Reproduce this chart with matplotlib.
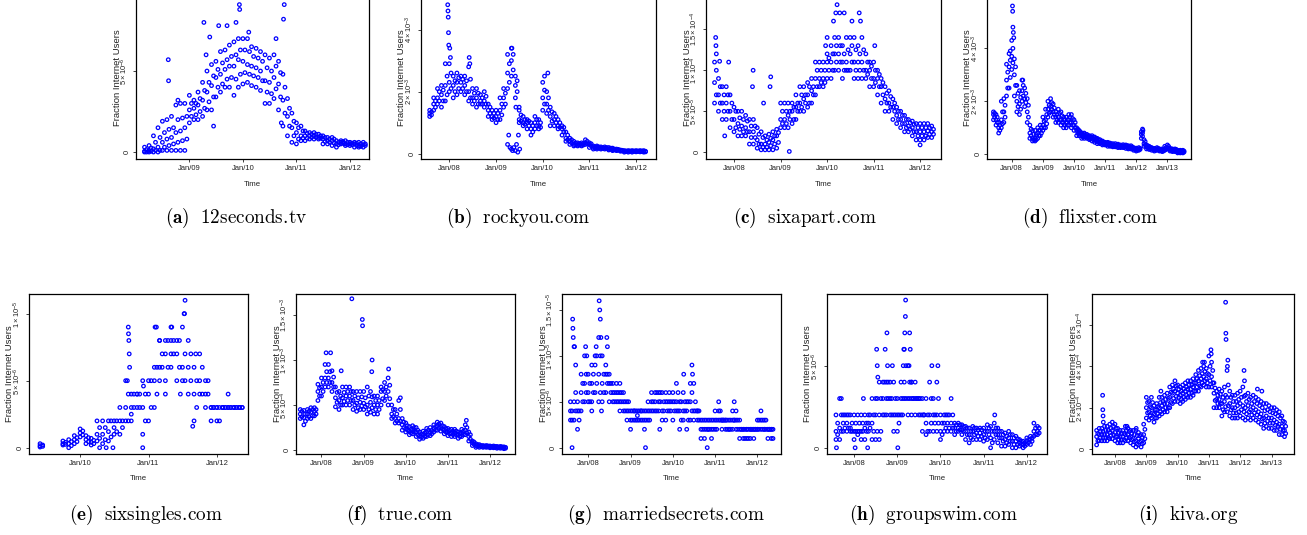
import numpy as np
import pandas as pd
import matplotlib
matplotlib.use("Agg")
import matplotlib.pyplot as plt

nan = float("nan")

plt.rcParams['font.family'] = ['Liberation Sans', 'DejaVu Sans']
plt.rcParams['mathtext.fontset'] = 'custom'
plt.rcParams['mathtext.rm'] = 'Liberation Sans'
plt.rcParams['mathtext.it'] = 'Liberation Sans:italic'
plt.rcParams['mathtext.bf'] = 'Liberation Sans:bold'

# ---------------- data: monthly readings of the point cloud ----------------
# lo / mid / hi read at the start of each month, q1 / q3 read at mid-month.

# (a) 12seconds.tv, units 1e-6, from Mar 2008
a_start = '2008-03-01'
a_lo = [0, 0, 0, 0, 0.1, 0.1, 0.1, 0.1, 0.1, 0.1,
        1.8, 2.0, 2.0, 2.2, 2.6, 2.6, 3.4, 3.7, 4.0, 4.0, 3.5, 4.0,
        4.2, 4.3, 4.1, 4.0, 3.8, 3.0, 3.0, 3.3, 2.6, 1.6, 1.0, 0.6,
        0.5, 0.7, 0.7, 0.8, 0.8, 0.8, 0.5, 0.5, 0.4, 0.3, 0.5, 0.4,
        0.4, 0.3, 0.3, 0.3]
a_mid = [0.05, 0.1, 0.2, 0.3, 0.6, 0.8, 0.9, 1.2, 1.3, 1.5,
         2.6, 2.7, 2.9, 3.2, 3.7, 4.1, 4.6, 4.8, 5.1, 5.3, 5.3, 5.7,
         5.6, 5.4, 5.3, 5.2, 5.0, 4.4, 4.3, 4.6, 4.2, 3.2, 2.2, 1.5,
         1.2, 1.0, 1.0, 1.0, 1.0, 0.9, 0.8, 0.7, 0.7, 0.5, 0.6, 0.5,
         0.5, 0.5, 0.4, 0.45]
a_hi = [0.3, 0.4, 1.0, 1.5, 1.9, 2.0, 2.2, 2.9, 3.0, 3.0,
        3.5, 3.2, 3.7, 4.3, 5.0, 5.4, 5.6, 6.2, 6.3, 6.6, 6.8, 7.0,
        7.0, 7.0, 6.5, 6.4, 6.2, 6.0, 5.8, 6.0, 5.6, 4.8, 3.3, 2.4,
        1.8, 1.6, 1.3, 1.2, 1.2, 1.1, 1.0, 0.9, 0.9, 0.7, 0.7, 0.7,
        0.6, 0.6, 0.6, 0.6]
a_q1 = [0, 0.05, 0.1, 0.1, 0.3, 0.4, 0.5, 0.6, 0.7, 0.8,
        2.2, 2.3, 2.5, 2.7, 3.1, 3.4, 4.0, 4.2, 4.5, 4.6, 4.5, 4.8,
        4.9, 4.8, 4.7, 4.6, 4.4, 3.7, 3.6, 3.9, 3.4, 2.4, 1.6, 1.0,
        0.8, 0.85, 0.85, 0.9, 0.9, 0.85, 0.65, 0.6, 0.55, 0.45, 0.55, 0.45,
        0.45, 0.4, 0.35, 0.4]
a_q3 = [0.15, 0.25, 0.6, 0.9, 1.2, 1.4, 1.5, 2.0, 2.1, 2.2,
        3.0, 3.0, 3.3, 3.8, 4.3, 4.7, 5.1, 5.5, 5.7, 5.9, 6.0, 6.3,
        6.3, 6.2, 5.9, 5.8, 5.6, 5.2, 5.0, 5.3, 4.9, 4.0, 2.7, 1.9,
        1.5, 1.3, 1.15, 1.1, 1.1, 1.0, 0.9, 0.8, 0.8, 0.6, 0.65, 0.6,
        0.55, 0.55, 0.5, 0.5]
a_out_dates = ['2008-08-10', '2008-08-12', '2008-10-15', '2009-04-10', '2009-04-25', '2009-05-20',
               '2009-06-15', '2009-07-20', '2009-09-15', '2009-11-15', '2009-12-08', '2009-12-10',
               '2010-02-10', '2010-08-15', '2010-10-10', '2010-10-05', '2010-09-20']
a_out_vals = [5.7, 4.4, 3.2, 8.0, 6.0, 7.1, 1.6, 7.8, 7.8, 8.0, 9.1, 8.8, 7.4, 7.0, 9.1, 8.2, 1.8]
a_scale = 1e-6
a_yticks = [0, 5]
a_ylabels = ['0', r'$5\times10^{-6}$']
a_xlabels = ['Jan/09', 'Jan/10', 'Jan/11', 'Jan/12']
a_name = '12seconds.tv'

# (b) rockyou.com, units 1e-3, from Aug 2007
b_start = '2007-08-01'
b_lo = [1.2, 1.4, 1.6, 1.5, 1.7,
        2.0, 1.8, 1.9, 2.0, 1.9, 1.7, 1.6, 1.5, 1.6, 1.5, 1.2, 1.1,
        1.0, 1.1, 1.5, 2.1, 2.5, 1.8, 1.0, 0.9, 0.8, 0.6, 0.8, 0.8,
        1.4, 1.3, 0.9, 0.9, 0.8, 0.6, 0.4, 0.3, 0.25, 0.25, 0.25, 0.3,
        0.2, 0.15, 0.15, 0.15, 0.15, 0.12, 0.1, 0.1, 0.08, 0.05, 0.05, 0.05,
        0.06, 0.06, 0.05]
b_mid = [1.3, 1.6, 1.8, 1.9, 2.2,
         2.3, 2.2, 2.3, 2.3, 2.2, 2.0, 1.8, 1.8, 1.7, 1.7, 1.4, 1.2,
         1.2, 1.4, 1.8, 2.6, 3.0, 2.2, 1.1, 1.0, 1.0, 0.8, 1.0, 0.9,
         1.8, 1.6, 1.2, 1.1, 0.9, 0.8, 0.5, 0.4, 0.3, 0.3, 0.3, 0.35,
         0.3, 0.2, 0.2, 0.18, 0.18, 0.15, 0.13, 0.12, 0.1, 0.08, 0.08, 0.08,
         0.08, 0.08, 0.07]
b_hi = [1.4, 1.8, 2.1, 2.2, 2.9,
        2.9, 2.5, 2.6, 2.5, 2.5, 2.8, 2.1, 2.1, 1.9, 2.0, 1.6, 1.4,
        1.4, 1.8, 2.1, 3.2, 3.4, 2.5, 1.4, 1.2, 1.1, 1.0, 1.2, 1.1,
        2.3, 2.0, 1.5, 1.3, 1.1, 0.9, 0.7, 0.5, 0.4, 0.35, 0.35, 0.45,
        0.35, 0.25, 0.25, 0.22, 0.22, 0.2, 0.18, 0.15, 0.12, 0.1, 0.1, 0.1,
        0.1, 0.1, 0.1]
b_q1 = [1.25, 1.5, 1.7, 1.7, 1.9,
        2.1, 2.0, 2.1, 2.1, 2.0, 1.8, 1.7, 1.6, 1.6, 1.6, 1.3, 1.15,
        1.1, 1.25, 1.6, 2.3, 2.7, 2.0, 1.05, 0.95, 0.9, 0.7, 0.9, 0.85,
        1.6, 1.4, 1.05, 1.0, 0.85, 0.7, 0.45, 0.35, 0.28, 0.28, 0.28, 0.32,
        0.25, 0.18, 0.18, 0.17, 0.17, 0.14, 0.12, 0.11, 0.09, 0.07, 0.07, 0.07,
        0.07, 0.07, 0.06]
b_q3 = [1.35, 1.7, 2.0, 2.05, 2.5,
        2.6, 2.35, 2.45, 2.4, 2.35, 2.4, 1.95, 1.95, 1.8, 1.85, 1.5, 1.3,
        1.3, 1.6, 1.95, 2.9, 3.2, 2.35, 1.25, 1.1, 1.05, 0.9, 1.1, 1.0,
        2.05, 1.8, 1.35, 1.2, 1.0, 0.85, 0.6, 0.45, 0.35, 0.33, 0.33, 0.4,
        0.32, 0.22, 0.22, 0.2, 0.2, 0.18, 0.15, 0.14, 0.11, 0.09, 0.09, 0.09,
        0.09, 0.09, 0.08]
b_out_dates = ['2009-04-01', '2009-04-10', '2009-04-20', '2009-05-01', '2009-05-10', '2009-05-20',
               '2009-06-01', '2009-06-10', '2009-06-20', '2009-06-25', '2009-07-05', '2009-07-01',
               '2009-06-05', '2007-12-20', '2007-12-22', '2007-12-24', '2007-12-26', '2007-12-28',
               '2008-01-05', '2008-01-10', '2008-06-05', '2008-06-10', '2009-05-05', '2010-02-10',
               '2010-01-15']
b_out_vals = [0.3, 0.6, 0.2, 0.15, 0.1, 0.2, 0.1, 0.3, 0.05, 0.6, 0.15, 1.5, 1.5,
              4.8, 4.6, 4.4, 3.9, 3.5, 3.4, 3.1, 3.1, 2.9, 3.4, 2.6, 2.5]
b_scale = 1e-3
b_yticks = [0, 2, 4]
b_ylabels = ['0', r'$2\times10^{-3}$', r'$4\times10^{-3}$']
b_xlabels = ['Jan/08', 'Jan/09', 'Jan/10', 'Jan/11', 'Jan/12']
b_name = 'rockyou.com'

# (c) sixapart.com, units 1e-5, from Aug 2007
c_start = '2007-08-01'
c_lo = [6, 5, 4, 4, 3,
        2.5, 2, 2, 2, 1, 1, 0.5, 0.3, 0.3, 0.3, 0.3, 0.5,
        3, 3, 3, 3.5, 4, 5, 5, 5.5, 6, 7, 8, 8,
        9, 9, 10, 10, 9, 10, 10, 9, 9, 9, 9, 8,
        8, 7, 6, 5, 5, 4, 3.5, 3, 2.5, 2.5, 2, 1.5,
        1.5, 1.5, 1.8, 1.8]
c_mid = [8.5, 7, 6, 6, 5,
         4, 3.5, 3.2, 3, 2.5, 2.5, 1.5, 1, 1, 1.2, 1.5, 2,
         4, 4, 4.5, 5, 5.5, 6, 6.5, 7, 7.5, 9, 9, 9,
         11, 11, 12, 12, 11, 11, 12, 11, 11, 11, 10, 10,
         9, 9, 8, 6.5, 6, 5.5, 4.5, 4, 3.5, 3.2, 3, 2.5,
         2.5, 2.5, 2.6, 2.5]
c_hi = [11, 9, 8, 8, 7,
        5.5, 5, 5, 4.5, 4, 4, 3, 2.5, 2, 2.2, 2.5, 2.8,
        6, 6, 6, 6, 7, 8, 8, 8.5, 9, 11, 11, 11,
        12, 13, 14, 14, 13, 14, 14, 14, 13, 14, 12, 11,
        11, 10, 9, 8, 7.5, 6.5, 5.5, 5, 4.5, 4, 3.8, 3.5,
        3.5, 3.5, 3.5, 3.2]
c_q1 = [7, 6, 5, 5, 4,
        3, 2.8, 2.5, 2.5, 1.8, 1.8, 1, 0.6, 0.6, 0.8, 1, 1.2,
        3.5, 3.5, 4, 4, 5, 5.5, 6, 6, 7, 8, 8.5, 8.5,
        10, 10, 11, 11, 10, 10, 11, 10, 10, 10, 9.5, 9,
        8.5, 8, 7, 6, 5.5, 5, 4, 3.5, 3, 2.8, 2.5, 2,
        2, 2, 2.2, 2.2]
c_q3 = [10, 8, 7, 7, 6,
        5, 4.2, 4, 3.8, 3.2, 3.2, 2.2, 1.8, 1.5, 1.7, 2, 2.4,
        5, 5, 5, 5.5, 6, 7, 7, 8, 8, 10, 10, 10,
        11.5, 12, 13, 13, 12, 12.5, 13, 12.5, 12, 12.5, 11, 10.5,
        10, 9.5, 8.5, 7.2, 6.8, 6, 5, 4.5, 4, 3.6, 3.4, 3,
        3, 3, 3, 2.8]
c_out_dates = ['2007-08-10', '2007-08-12', '2007-08-15', '2007-09-10', '2007-10-20', '2007-11-20',
               '2008-05-25', '2008-05-30', '2008-08-20', '2008-10-15', '2008-10-10', '2009-03-10',
               '2010-01-01', '2009-12-20', '2010-02-20', '2010-03-10', '2010-03-20', '2010-04-10',
               '2010-05-15', '2010-07-15', '2010-09-10', '2010-09-20', '2011-01-10', '2012-01-01']
c_out_vals = [14, 13, 12, 11.1, 2, 11, 8, 10, 6, 9.2, 8, 0.1,
              14, 13, 16, 17, 18, 17, 17, 16, 17, 16, 13, 0.9]
c_scale = 1e-5
c_yticks = [0, 5, 10, 15]
c_ylabels = ['0', r'$5\times10^{-5}$', r'$1\times10^{-4}$', r'$1.5\times10^{-4}$']
c_xlabels = ['Jan/08', 'Jan/09', 'Jan/10', 'Jan/11', 'Jan/12']
c_name = 'sixapart.com'

# (d) flixster.com, units 1e-3, from Jun 2007
d_start = '2007-06-01'
d_lo = [1.3, 1.1, 0.8, 1.0, 1.2, 2.2, 2.5,
        3.2, 2.2, 1.6, 1.5, 2.0, 1.8, 1.2, 0.6, 0.5, 0.5, 0.6, 0.7,
        0.9, 1.0, 1.4, 1.6, 1.4, 1.2, 1.2, 1.1, 1.0, 1.0, 1.1, 1.0,
        0.9, 0.7, 0.7, 0.6, 0.6, 0.6, 0.55, 0.5, 0.45, 0.4, 0.4, 0.35,
        0.35, 0.3, 0.3, 0.28, 0.28, 0.25, 0.25, 0.25, 0.22, 0.2, 0.2, 0.15,
        0.12, 0.15, 0.6, 0.3, 0.2, 0.18, 0.15, 0.12, 0.15, 0.12, 0.1, 0.15,
        0.2, 0.12, 0.1, 0.1, 0.05, 0.05, 0.05]
d_mid = [1.5, 1.3, 1.0, 1.3, 1.6, 2.8, 3.3,
         3.7, 3.0, 2.0, 1.9, 2.4, 2.1, 1.6, 0.8, 0.6, 0.6, 0.8, 0.9,
         1.1, 1.3, 1.7, 1.8, 1.6, 1.4, 1.4, 1.3, 1.2, 1.2, 1.3, 1.2,
         1.1, 0.9, 0.8, 0.7, 0.7, 0.65, 0.6, 0.6, 0.55, 0.5, 0.45, 0.42,
         0.4, 0.38, 0.35, 0.32, 0.33, 0.3, 0.3, 0.3, 0.28, 0.26, 0.25, 0.2,
         0.18, 0.2, 0.75, 0.4, 0.28, 0.22, 0.2, 0.18, 0.2, 0.15, 0.15, 0.2,
         0.25, 0.18, 0.15, 0.15, 0.1, 0.1, 0.1]
d_hi = [1.6, 1.5, 1.2, 2.0, 2.1, 3.4, 3.8,
        4.3, 3.6, 2.6, 2.4, 2.8, 2.5, 2.1, 1.1, 0.9, 0.9, 1.0, 1.1,
        1.4, 1.7, 2.0, 2.1, 1.9, 1.6, 1.7, 1.6, 1.4, 1.4, 1.5, 1.5,
        1.3, 1.0, 0.9, 0.8, 0.8, 0.75, 0.7, 0.7, 0.65, 0.6, 0.55, 0.5,
        0.45, 0.45, 0.42, 0.4, 0.4, 0.38, 0.35, 0.36, 0.35, 0.32, 0.32, 0.25,
        0.23, 0.25, 0.85, 0.55, 0.35, 0.3, 0.25, 0.22, 0.25, 0.2, 0.2, 0.3,
        0.35, 0.22, 0.2, 0.2, 0.15, 0.15, 0.15]
d_q1 = [1.4, 1.2, 0.9, 1.15, 1.4, 2.5, 2.9,
        3.45, 2.6, 1.8, 1.7, 2.2, 1.95, 1.4, 0.7, 0.55, 0.55, 0.7, 0.8,
        1.0, 1.15, 1.55, 1.7, 1.5, 1.3, 1.3, 1.2, 1.1, 1.1, 1.2, 1.1,
        1.0, 0.8, 0.75, 0.65, 0.65, 0.62, 0.58, 0.55, 0.5, 0.45, 0.42, 0.38,
        0.38, 0.34, 0.32, 0.3, 0.3, 0.28, 0.28, 0.28, 0.25, 0.23, 0.22, 0.18,
        0.15, 0.18, 0.68, 0.35, 0.24, 0.2, 0.18, 0.15, 0.18, 0.14, 0.12, 0.18,
        0.22, 0.15, 0.12, 0.12, 0.08, 0.08, 0.08]
d_q3 = [1.55, 1.4, 1.1, 1.6, 1.85, 3.1, 3.55,
        4.0, 3.3, 2.3, 2.15, 2.6, 2.3, 1.85, 0.95, 0.75, 0.75, 0.9, 1.0,
        1.25, 1.5, 1.85, 1.95, 1.75, 1.5, 1.55, 1.45, 1.3, 1.3, 1.4, 1.35,
        1.2, 0.95, 0.85, 0.75, 0.75, 0.7, 0.65, 0.65, 0.6, 0.55, 0.5, 0.46,
        0.42, 0.42, 0.38, 0.36, 0.36, 0.34, 0.32, 0.33, 0.32, 0.29, 0.28, 0.22,
        0.2, 0.22, 0.8, 0.48, 0.32, 0.26, 0.22, 0.2, 0.22, 0.18, 0.18, 0.25,
        0.3, 0.2, 0.18, 0.18, 0.12, 0.12, 0.12]
d_out_dates = ['2008-01-10', '2008-01-12', '2008-01-15', '2008-01-20', '2008-01-25', '2007-12-15',
               '2008-05-10', '2012-03-15', '2012-03-20']
d_out_vals = [5.6, 5.4, 4.8, 4.6, 4.4, 3.9, 2.8, 0.95, 0.9]
d_scale = 1e-3
d_yticks = [0, 2, 4]
d_ylabels = ['0', r'$2\times10^{-3}$', r'$4\times10^{-3}$']
d_xlabels = ['Jan/08', 'Jan/09', 'Jan/10', 'Jan/11', 'Jan/12', 'Jan/13']
d_name = 'flixster.com'

# (e) sixsingles.com, units 1e-6, from Jun 2009
e_start = '2009-06-01'
e_lo = [0.05, nan, nan, nan, 0.2, 0.0, 0.3,
        0.8, 0.3, 0.2, 0.5, 0.3, 0.5, 1.0, 1.0, 2.0, 2.0, 3.0, 1.0,
        2.0, 3.0, 5.0, 5.0, 6.0, 5.0, 5.0, 4.0, 2.0, 4.0, 3.0, 2.0,
        2.0, 3.0, 3.0, 3.0, 3.0]
e_mid = [0.15, nan, nan, nan, 0.3, 0.3, 0.6,
         1.1, 0.6, 0.4, 1.0, 1.0, 1.2, 1.5, 2.0, 3.0, 3.0, 4.0, 3.0,
         4.0, 5.0, 6.0, 7.0, 7.0, 7.0, 6.0, 6.0, 4.0, 5.0, 4.0, 3.0,
         3.0, 3.0, 3.0, 3.0, 3.0]
e_hi = [0.3, nan, nan, nan, 0.5, 0.6, 0.9,
        1.4, 0.9, 0.7, 2.0, 2.0, 2.0, 2.0, 3.0, 5.0, 4.0, 4.0, 5.0,
        5.0, 6.0, 8.0, 8.0, 8.0, 8.0, 9.0, 8.0, 6.0, 7.0, 5.0, 3.0,
        3.0, 3.0, 4.0, 3.0, 3.0]
e_q1 = [0.1, nan, nan, nan, 0.25, 0.15, 0.45,
        0.95, 0.45, 0.3, 0.7, 0.6, 0.8, 1.2, 1.5, 2.0, 3.0, 3.0, 2.0,
        3.0, 4.0, 6.0, 6.0, 7.0, 6.0, 5.0, 5.0, 3.0, 4.0, 4.0, 3.0,
        2.0, 3.0, 3.0, 3.0, 3.0]
e_q3 = [0.2, nan, nan, nan, 0.4, 0.45, 0.75,
        1.25, 0.75, 0.55, 1.5, 1.5, 2.0, 2.0, 2.0, 4.0, 4.0, 4.0, 4.0,
        5.0, 6.0, 7.0, 8.0, 8.0, 8.0, 7.0, 7.0, 5.0, 6.0, 5.0, 3.0,
        3.0, 3.0, 3.0, 3.0, 3.0]
e_out_dates = ['2010-09-15', '2010-09-16', '2010-09-18', '2010-09-20', '2010-09-22', '2010-09-10',
               '2010-10-01', '2010-12-01', '2010-12-05', '2011-02-05', '2011-02-12', '2011-03-01',
               '2011-05-01', '2011-05-05', '2011-07-10', '2011-07-15', '2011-07-12', '2011-04-01',
               '2011-06-20', '2011-08-25', '2011-09-10', '2010-04-15', '2010-05-20', '2010-06-25']
e_out_vals = [9, 8.5, 8, 7, 6, 5, 2.5, 0, 4.6, 9, 9, 8, 9, 9, 10, 11, 10, 4, 4, 1.6, 7, 0, 0, 0]
e_scale = 1e-6
e_yticks = [0, 5, 10]
e_ylabels = ['0', r'$5\times10^{-6}$', r'$1\times10^{-5}$']
e_xlabels = ['Jan/10', 'Jan/11', 'Jan/12']
e_name = 'sixsingles.com'

# (f) true.com, units 1e-4, from Jul 2007
f_start = '2007-07-01'
f_lo = [3.5, 2.8, 3.5, 3.5, 3.8, 5.5,
        6.0, 7.0, 7.0, 6.5, 4.8, 4.5, 5.0, 5.0, 5.0, 4.5, 4.3, 4.5,
        4.5, 4.0, 4.2, 4.0, 4.0, 5.0, 5.5, 5.0, 3.5, 3.0, 3.0, 2.2,
        2.0, 1.7, 1.8, 1.5, 1.2, 1.3, 1.5, 1.6, 2.0, 2.2, 2.1, 1.8,
        1.6, 1.5, 1.5, 1.3, 1.5, 1.7, 1.0, 0.5, 0.3, 0.3, 0.3, 0.3,
        0.25, 0.25, 0.2, 0.2, 0.15]
f_mid = [4.0, 3.6, 4.0, 4.2, 4.3, 6.5,
         7.0, 8.0, 8.0, 7.5, 5.8, 5.5, 5.8, 6.0, 6.0, 5.5, 5.2, 5.3,
         5.2, 5.0, 5.3, 5.0, 5.0, 6.5, 6.5, 6.5, 4.0, 3.5, 3.5, 2.8,
         2.4, 2.1, 2.2, 2.0, 1.6, 1.7, 2.0, 2.0, 2.4, 2.7, 2.5, 2.2,
         2.0, 1.9, 1.9, 1.7, 1.9, 2.2, 1.5, 0.8, 0.5, 0.45, 0.4, 0.4,
         0.35, 0.35, 0.3, 0.3, 0.25]
f_hi = [4.5, 4.4, 4.5, 4.7, 4.7, 7.3,
        8.0, 9.5, 9.5, 8.8, 7.0, 6.5, 7.0, 7.0, 7.0, 6.5, 6.5, 6.5,
        6.5, 7.0, 6.5, 6.0, 6.0, 7.0, 7.5, 8.0, 5.0, 4.5, 5.5, 3.5,
        3.0, 2.6, 2.7, 2.5, 2.0, 2.1, 2.4, 2.5, 2.8, 3.1, 3.0, 2.6,
        2.4, 2.3, 2.3, 2.0, 2.3, 2.8, 2.0, 1.0, 0.7, 0.6, 0.5, 0.5,
        0.45, 0.45, 0.4, 0.4, 0.35]
f_q1 = [3.7, 3.2, 3.7, 3.8, 4.0, 6.0,
        6.5, 7.5, 7.5, 7.0, 5.3, 5.0, 5.4, 5.5, 5.5, 5.0, 4.7, 4.9,
        4.8, 4.5, 4.7, 4.5, 4.5, 5.7, 6.0, 5.7, 3.7, 3.2, 3.2, 2.5,
        2.2, 1.9, 2.0, 1.7, 1.4, 1.5, 1.7, 1.8, 2.2, 2.4, 2.3, 2.0,
        1.8, 1.7, 1.7, 1.5, 1.7, 1.9, 1.2, 0.65, 0.4, 0.38, 0.35, 0.35,
        0.3, 0.3, 0.25, 0.25, 0.2]
f_q3 = [4.3, 4.0, 4.3, 4.5, 4.5, 6.9,
        7.5, 8.7, 8.7, 8.1, 6.4, 6.0, 6.4, 6.5, 6.5, 6.0, 5.8, 5.9,
        5.8, 6.0, 5.9, 5.5, 5.5, 6.7, 7.0, 7.2, 4.5, 4.0, 4.5, 3.1,
        2.7, 2.3, 2.5, 2.2, 1.8, 1.9, 2.2, 2.2, 2.6, 2.9, 2.7, 2.4,
        2.2, 2.1, 2.1, 1.85, 2.1, 2.5, 1.7, 0.9, 0.6, 0.5, 0.45, 0.45,
        0.4, 0.4, 0.35, 0.35, 0.3]
f_out_dates = ['2008-09-20', '2008-12-20', '2008-12-22', '2009-03-15', '2009-03-12', '2008-02-10',
               '2008-03-20', '2009-08-05', '2009-11-15', '2011-06-10', '2008-06-20']
f_out_vals = [16.8, 14.5, 13.8, 10, 8.7, 10.8, 10.8, 9, 5.8, 3.3, 8.8]
f_scale = 1e-4
f_yticks = [0, 5, 10, 15]
f_ylabels = ['0', r'$5\times10^{-4}$', r'$1\times10^{-3}$', r'$1.5\times10^{-3}$']
f_xlabels = ['Jan/08', 'Jan/09', 'Jan/10', 'Jan/11', 'Jan/12']
f_name = 'true.com'

# (g) marriedsecrets.com, units 1e-6, from Aug 2007
g_start = '2007-08-01'
g_lo = [3, 3, 2, 4, 5,
        5, 5, 6, 5, 5, 6, 5, 5, 5, 4, 4, 3,
        2, 3, 3, 3, 2, 3, 4, 4, 4, 3, 3, 4,
        3, 4, 2, 3, 2, 3, 3, 3, 1, 1, 2, 1,
        2, 3, 2, 2, 2, 2, 2, 1, 1, 1, 1, 1,
        2, 2, 2, 1, 1]
g_mid = [4, 5, 4, 6, 7,
         6, 7, 9, 8, 7, 8, 7, 6, 6, 5, 5, 4,
         3, 4, 3.5, 4, 3, 4, 5, 5, 5, 4, 5, 5,
         5, 5, 4, 4, 4, 5, 4, 4, 2, 2, 2, 2,
         3, 4, 3, 3, 2, 3, 3, 2, 2, 2, 2, 2,
         2, 3, 2, 2, 2]
g_hi = [5, 11, 5, 8, 10,
        8, 9, 10, 12, 10, 9, 8, 7, 7, 6, 6, 5,
        4, 4, 4, 4, 4, 5, 6, 6, 6, 6, 6, 6,
        6, 7, 5, 6, 5, 7, 7, 4, 3, 3, 3, 3,
        4, 5, 3, 3, 3, 4, 4, 3, 2, 2, 2, 2,
        3, 4, 3, 2, 2]
g_q1 = [3, 4, 3, 5, 6,
        5, 6, 7, 6, 6, 7, 6, 5, 5, 5, 4, 4,
        3, 3, 3, 3, 3, 3, 4, 4, 5, 4, 4, 4,
        4, 4, 3, 4, 3, 4, 4, 3, 2, 2, 2, 2,
        2, 3, 3, 2, 2, 3, 2, 2, 1, 1, 2, 2,
        2, 2, 2, 2, 1]
g_q3 = [4, 6, 4, 7, 8,
        7, 8, 10, 10, 8, 8, 7, 6, 6, 6, 5, 5,
        4, 4, 4, 4, 4, 4, 5, 6, 6, 5, 5, 5,
        5, 6, 5, 5, 5, 6, 5, 4, 3, 3, 3, 3,
        3, 4, 3, 3, 3, 3, 3, 2, 2, 2, 2, 2,
        3, 3, 3, 2, 2]
g_out_dates = ['2007-08-15', '2007-08-20', '2007-08-22', '2007-08-25', '2007-09-05', '2007-09-15',
               '2007-12-10', '2007-12-20', '2008-04-05', '2008-04-10', '2008-04-15', '2008-04-20',
               '2008-06-10', '2008-06-15', '2008-03-10', '2008-04-25', '2009-05-10', '2010-04-05',
               '2010-06-15', '2010-06-20', '2010-10-25', '2011-06-15', '2008-10-01', '2009-09-10',
               '2008-02-01']
g_out_vals = [0, 14, 13, 12, 11, 9, 11, 10, 16, 15, 14, 12, 12, 11, 11, 4, 0, 8, 9, 8, 0, 5, 7, 2, 4]
g_scale = 1e-6
g_yticks = [0, 5, 10, 15]
g_ylabels = ['0', r'$5\times10^{-6}$', r'$1\times10^{-5}$', r'$1.5\times10^{-5}$']
g_xlabels = ['Jan/08', 'Jan/09', 'Jan/10', 'Jan/11', 'Jan/12']
g_name = 'marriedsecrets.com'

# (h) groupswim.com, units 1e-6, from Aug 2007
h_start = '2007-08-01'
h_lo = [0.5, 0.5, 1.0, 1.0, 1.0,
        0.5, 0.8, 0.5, 0.5, 1.0, 0.5, 0.5, 0.5, 2.0, 2.0, 2.0, 1.0,
        1.0, 2.0, 3.0, 2.0, 2.0, 2.0, 2.0, 1.0, 0.8, 1.0, 1.0, 1.0,
        0.5, 1.0, 1.0, 1.0, 0.8, 1.0, 0.8, 0.5, 0.3, 0.5, 0.5, 0.5,
        0.4, 0.5, 0.0, 0.5, 0.3, 0.1, 0.1, 0.2, 0.0, 0.0, 0.1, 0.0,
        0.2, 0.2, 0.7, 0.8]
h_mid = [1.0, 1.2, 1.5, 1.5, 1.2,
         1.0, 1.0, 1.0, 1.2, 1.5, 1.5, 2.0, 2.0, 3.0, 3.0, 3.0, 2.0,
         2.0, 3.0, 4.0, 3.0, 3.0, 3.0, 3.0, 2.0, 1.5, 2.0, 2.0, 2.0,
         1.0, 1.5, 1.5, 1.5, 1.2, 1.2, 1.1, 1.0, 0.8, 1.0, 0.9, 0.9,
         0.8, 1.0, 0.6, 1.0, 0.8, 0.6, 0.5, 0.6, 0.4, 0.4, 0.3, 0.2,
         0.4, 0.5, 1.0, 1.0]
h_hi = [2.0, 3.0, 2.0, 2.0, 2.0,
        2.0, 2.0, 2.0, 2.0, 2.0, 3.0, 3.0, 4.0, 4.0, 4.0, 4.0, 4.0,
        3.0, 4.0, 6.0, 5.0, 4.0, 4.0, 3.0, 3.0, 3.0, 4.0, 3.0, 4.0,
        2.0, 2.0, 2.0, 3.0, 1.5, 1.5, 1.4, 1.3, 1.2, 1.3, 1.2, 1.2,
        1.2, 1.4, 1.3, 1.5, 1.2, 1.0, 0.9, 1.0, 0.8, 0.7, 0.5, 0.4,
        0.6, 0.7, 1.5, 1.3]
h_q1 = [0.8, 1.0, 1.2, 1.2, 1.0,
        1.0, 1.0, 1.0, 1.0, 1.2, 1.0, 1.0, 1.0, 2.0, 3.0, 2.0, 2.0,
        1.5, 2.0, 3.0, 3.0, 3.0, 3.0, 2.0, 2.0, 1.0, 1.5, 1.5, 1.5,
        0.8, 1.2, 1.2, 1.2, 1.0, 1.1, 1.0, 0.8, 0.6, 0.8, 0.7, 0.7,
        0.6, 0.8, 0.3, 0.8, 0.6, 0.4, 0.3, 0.4, 0.2, 0.2, 0.2, 0.1,
        0.3, 0.4, 0.8, 0.9]
h_q3 = [1.5, 2.0, 2.0, 2.0, 1.5,
        1.5, 1.5, 1.5, 1.5, 2.0, 2.0, 3.0, 3.0, 4.0, 4.0, 3.0, 3.0,
        2.0, 3.0, 5.0, 4.0, 3.0, 3.0, 3.0, 2.0, 2.0, 3.0, 2.0, 3.0,
        1.5, 2.0, 2.0, 2.0, 1.4, 1.4, 1.3, 1.2, 1.0, 1.2, 1.1, 1.1,
        1.0, 1.2, 1.0, 1.2, 1.0, 0.8, 0.7, 0.8, 0.6, 0.55, 0.4, 0.3,
        0.5, 0.6, 1.2, 1.2]
h_out_dates = ['2007-08-05', '2007-09-15', '2008-03-20', '2008-01-10', '2008-04-25', '2008-07-10',
               '2008-07-15', '2008-07-20', '2008-09-20', '2008-10-05', '2008-10-10', '2008-11-20',
               '2009-01-05', '2009-02-20', '2009-02-25', '2009-03-05', '2009-03-10', '2009-03-12',
               '2009-04-15', '2009-04-20', '2009-04-10', '2009-05-01', '2009-10-20', '2009-12-10',
               '2011-04-05']
h_out_vals = [0, 3.0, 3.0, 0, 0, 6, 5, 4.3, 6, 7, 5, 5, 0, 5, 6, 7, 8, 9, 7, 6, 5, 4, 5, 5, 2]
h_scale = 1e-6
h_yticks = [0, 5]
h_ylabels = ['0', r'$5\times10^{-6}$']
h_xlabels = ['Jan/08', 'Jan/09', 'Jan/10', 'Jan/11', 'Jan/12']
h_name = 'groupswim.com'

# (i) kiva.org, units 1e-4, from Jun 2007
i_start = '2007-06-01'
i_lo = [0.2, 0.4, 0.4, 0.4, 0.4, 0.5, 0.5,
        0.4, 0.3, 0.3, 0.3, 0.4, 0.4, 0.3, 0.2, 0.1, 0.2, 0.1, 0.3,
        1.5, 1.4, 1.5, 1.3, 1.5, 1.6, 1.7, 1.8, 1.8, 2.0, 2.2, 2.3,
        2.3, 2.2, 2.3, 2.4, 2.5, 2.5, 2.6, 2.8, 2.8, 3.0, 3.1, 3.0,
        3.0, 3.0, 2.0, 2.0, 2.0, 1.6, 1.8, 1.8, 1.6, 1.5, 1.5, 1.5,
        1.6, 1.5, 1.4, 1.5, 1.4, 1.5, 1.4, 1.3, 1.2, 1.0, 1.1, 1.0,
        1.0, 0.9, 0.9, 0.7, 0.7, 0.6]
i_mid = [0.6, 0.7, 0.7, 0.7, 0.7, 0.8, 0.9,
         0.8, 0.6, 0.6, 0.6, 0.7, 0.7, 0.6, 0.5, 0.4, 0.5, 0.4, 0.7,
         2.0, 1.8, 2.0, 1.7, 1.9, 2.0, 2.1, 2.2, 2.2, 2.5, 2.7, 2.8,
         2.7, 2.6, 2.7, 2.8, 2.9, 2.9, 3.0, 3.2, 3.3, 3.4, 3.5, 3.4,
         3.6, 3.5, 2.7, 2.4, 2.4, 2.2, 2.3, 2.5, 2.2, 2.0, 2.0, 2.1,
         2.2, 2.1, 2.0, 2.1, 1.9, 2.0, 1.9, 1.8, 1.7, 1.5, 1.6, 1.5,
         1.5, 1.4, 1.3, 1.2, 1.1, 0.9]
i_hi = [0.9, 1.0, 1.0, 1.1, 1.1, 1.2, 1.3,
        1.2, 1.0, 0.9, 0.9, 1.1, 1.0, 0.9, 0.9, 0.9, 0.8, 0.7, 1.2,
        2.5, 2.3, 2.5, 2.1, 2.2, 2.5, 2.5, 2.6, 2.7, 3.0, 3.1, 3.3,
        3.1, 3.0, 3.1, 3.2, 3.3, 3.3, 3.4, 3.6, 3.8, 3.9, 4.0, 3.9,
        4.5, 4.2, 3.2, 2.8, 2.9, 2.8, 3.0, 3.8, 2.8, 2.6, 2.6, 2.7,
        2.8, 3.0, 2.6, 2.7, 2.5, 2.6, 2.5, 2.4, 2.3, 2.2, 2.2, 2.1,
        2.0, 2.0, 1.9, 1.8, 1.6, 1.3]
i_q1 = [0.4, 0.55, 0.55, 0.55, 0.55, 0.65, 0.7,
        0.6, 0.45, 0.45, 0.45, 0.55, 0.55, 0.45, 0.35, 0.25, 0.35, 0.25, 0.5,
        1.75, 1.6, 1.75, 1.5, 1.7, 1.8, 1.9, 2.0, 2.0, 2.25, 2.45, 2.55,
        2.5, 2.4, 2.5, 2.6, 2.7, 2.7, 2.8, 3.0, 3.05, 3.2, 3.3, 3.2,
        3.3, 3.2, 2.35, 2.2, 2.2, 1.9, 2.05, 2.1, 1.9, 1.75, 1.75, 1.8,
        1.9, 1.8, 1.7, 1.8, 1.65, 1.75, 1.65, 1.55, 1.45, 1.25, 1.35, 1.25,
        1.25, 1.15, 1.1, 0.95, 0.9, 0.75]
i_q3 = [0.75, 0.85, 0.85, 0.9, 0.9, 1.0, 1.1,
        1.0, 0.8, 0.75, 0.75, 0.9, 0.85, 0.75, 0.7, 0.65, 0.65, 0.55, 0.95,
        2.25, 2.05, 2.25, 1.9, 2.05, 2.25, 2.3, 2.4, 2.45, 2.75, 2.9, 3.05,
        2.9, 2.8, 2.9, 3.0, 3.1, 3.1, 3.2, 3.4, 3.55, 3.65, 3.75, 3.65,
        4.0, 3.8, 2.95, 2.6, 2.65, 2.5, 2.6, 3.1, 2.5, 2.3, 2.3, 2.4,
        2.5, 2.55, 2.3, 2.4, 2.2, 2.3, 2.2, 2.1, 2.0, 1.85, 1.9, 1.8,
        1.75, 1.7, 1.6, 1.5, 1.35, 1.1]
i_out_dates = ['2007-08-10', '2007-08-12', '2007-08-15', '2007-08-18', '2008-05-20', '2008-09-05',
               '2009-06-20', '2010-10-20', '2010-11-10', '2011-01-25', '2011-01-28', '2011-07-15',
               '2011-07-18', '2011-07-20', '2011-08-10', '2011-08-05', '2012-02-15', '2012-02-20',
               '2012-07-20', '2012-09-10']
i_out_vals = [2.6, 1.9, 1.6, 1.3, 1.1, 1.0, 2.8, 4.2, 4.2, 4.8, 4.6, 7.1, 5.6, 5.3, 4.3, 4.0,
              3.8, 3.3, 2.9, 2.8]
i_scale = 1e-4
i_yticks = [0, 2, 4, 6]
i_ylabels = ['0', r'$2\times10^{-4}$', r'$4\times10^{-4}$', r'$6\times10^{-4}$']
i_xlabels = ['Jan/08', 'Jan/09', 'Jan/10', 'Jan/11', 'Jan/12', 'Jan/13']
i_name = 'kiva.org'

# ---------------- layout ----------------
W, H = 1307, 535
panels = [
    dict(tag='a', start=a_start, lo=a_lo, mid=a_mid, hi=a_hi, q1=a_q1, q3=a_q3, od=a_out_dates, ov=a_out_vals,
         scale=a_scale, yt=a_yticks, yl=a_ylabels, xl=a_xlabels, name=a_name,
         box=(136, 369, -3, 159), xlim=('2008-01-03', '2012-05-10'), ylim=(-0.43, 9.57), cap=(236, 218)),
    dict(tag='b', start=b_start, lo=b_lo, mid=b_mid, hi=b_hi, q1=b_q1, q3=b_q3, od=b_out_dates, ov=b_out_vals,
         scale=b_scale, yt=b_yticks, yl=b_ylabels, xl=b_xlabels, name=b_name,
         box=(421, 656, -3, 159), xlim=('2007-05-25', '2012-06-05'), ylim=(-0.17, 5.05), cap=(518, 218)),
    dict(tag='c', start=c_start, lo=c_lo, mid=c_mid, hi=c_hi, q1=c_q1, q3=c_q3, od=c_out_dates, ov=c_out_vals,
         scale=c_scale, yt=c_yticks, yl=c_ylabels, xl=c_xlabels, name=c_name,
         box=(706, 941, -3, 159), xlim=('2007-05-26', '2012-06-13'), ylim=(-0.82, 18.94), cap=(805, 218)),
    dict(tag='d', start=d_start, lo=d_lo, mid=d_mid, hi=d_hi, q1=d_q1, q3=d_q3, od=d_out_dates, ov=d_out_vals,
         scale=d_scale, yt=d_yticks, yl=d_ylabels, xl=d_xlabels, name=d_name,
         box=(987, 1191, -3, 159), xlim=('2007-03-17', '2013-10-05'), ylim=(-0.18, 5.94), cap=(1090, 218)),
    dict(tag='e', start=e_start, lo=e_lo, mid=e_mid, hi=e_hi, q1=e_q1, q3=e_q3, od=e_out_dates, ov=e_out_vals,
         scale=e_scale, yt=e_yticks, yl=e_ylabels, xl=e_xlabels, name=e_name,
         box=(29, 248, 294, 454), xlim=('2009-04-03', '2012-06-15'), ylim=(-0.47, 11.47), cap=(146, 515)),
    dict(tag='f', start=f_start, lo=f_lo, mid=f_mid, hi=f_hi, q1=f_q1, q3=f_q3, od=f_out_dates, ov=f_out_vals,
         scale=f_scale, yt=f_yticks, yl=f_ylabels, xl=f_xlabels, name=f_name,
         box=(296, 515, 294, 454), xlim=('2007-05-25', '2012-08-05'), ylim=(-0.44, 17.33), cap=(400, 515)),
    dict(tag='g', start=g_start, lo=g_lo, mid=g_mid, hi=g_hi, q1=g_q1, q3=g_q3, od=g_out_dates, ov=g_out_vals,
         scale=g_scale, yt=g_yticks, yl=g_ylabels, xl=g_xlabels, name=g_name,
         box=(562, 781, 294, 454), xlim=('2007-05-20', '2012-07-23'), ylim=(-0.69, 16.74), cap=(666, 515)),
    dict(tag='h', start=h_start, lo=h_lo, mid=h_mid, hi=h_hi, q1=h_q1, q3=h_q3, od=h_out_dates, ov=h_out_vals,
         scale=h_scale, yt=h_yticks, yl=h_ylabels, xl=h_xlabels, name=h_name,
         box=(827, 1047, 294, 454), xlim=('2007-05-17', '2012-06-20'), ylim=(-0.38, 9.37), cap=(933, 515)),
    dict(tag='i', start=i_start, lo=i_lo, mid=i_mid, hi=i_hi, q1=i_q1, q3=i_q3, od=i_out_dates, ov=i_out_vals,
         scale=i_scale, yt=i_yticks, yl=i_ylabels, xl=i_xlabels, name=i_name,
         box=(1092, 1294, 294, 454), xlim=('2007-04-08', '2013-09-20'), ylim=(-0.24, 7.5), cap=(1188, 515)),
]

fig = plt.figure(figsize=(W / 100, H / 100), dpi=100)
blue = '#0000ff'
mk = dict(s=6.5, facecolors='none', edgecolors=blue, linewidths=0.9, zorder=3)

for p in panels:
    l, r, t, b = p['box']
    ax = fig.add_axes([l / W, 1 - b / H, (r - l) / W, (b - t) / H])
    for key in ('lo', 'mid', 'hi'):
        vals = np.array(p[key], dtype=float) * p['scale']
        dates = pd.date_range(p['start'], periods=len(vals), freq='MS')
        ax.scatter(dates, vals, **mk)
    for key in ('q1', 'q3'):
        vals = np.array(p[key], dtype=float) * p['scale']
        dates = pd.date_range(p['start'], periods=len(vals), freq='MS') + pd.Timedelta(days=14)
        ax.scatter(dates, vals, **mk)
    ax.scatter(pd.to_datetime(p['od']), np.array(p['ov'], dtype=float) * p['scale'], **mk)
    ax.set_xlim(pd.Timestamp(p['xlim'][0]), pd.Timestamp(p['xlim'][1]))
    ax.set_ylim(p['ylim'][0] * p['scale'], p['ylim'][1] * p['scale'])
    xt = pd.to_datetime(p['xl'], format='%b/%y')
    ax.set_xticks(xt)
    ax.set_xticklabels(p['xl'])
    ax.set_yticks(np.array(p['yt'], dtype=float) * p['scale'])
    ax.set_yticklabels(p['yl'], rotation=90, va='center', ha='right')
    ax.tick_params(axis='both', direction='out', length=2.5, width=0.6, labelsize=5.5,
                   colors='#222222', pad=1.5)
    for sp in ax.spines.values():
        sp.set_linewidth(0.9)
        sp.set_color('black')
    wpx, hpx = r - l, b - t
    ax.set_ylabel('Fraction Internet Users', fontsize=6.8, color='#222222', va='center')
    ax.yaxis.set_label_coords(-19 / wpx, 0.5)
    ax.set_xlabel('Time', fontsize=5.6, color='#222222', va='center')
    ax.xaxis.set_label_coords(0.5, -25 / hpx)
    cx, cy = p['cap']
    nm = p['name'].replace('.', r'.\!')
    fig.text(cx / W, 1 - cy / H, r'$\mathbf{(' + p['tag'] + r')}\ \ \mathrm{' + nm + '}$',
             math_fontfamily='cm', fontsize=13.8, ha='center', va='center')

fig.savefig('out.png', dpi=100)
